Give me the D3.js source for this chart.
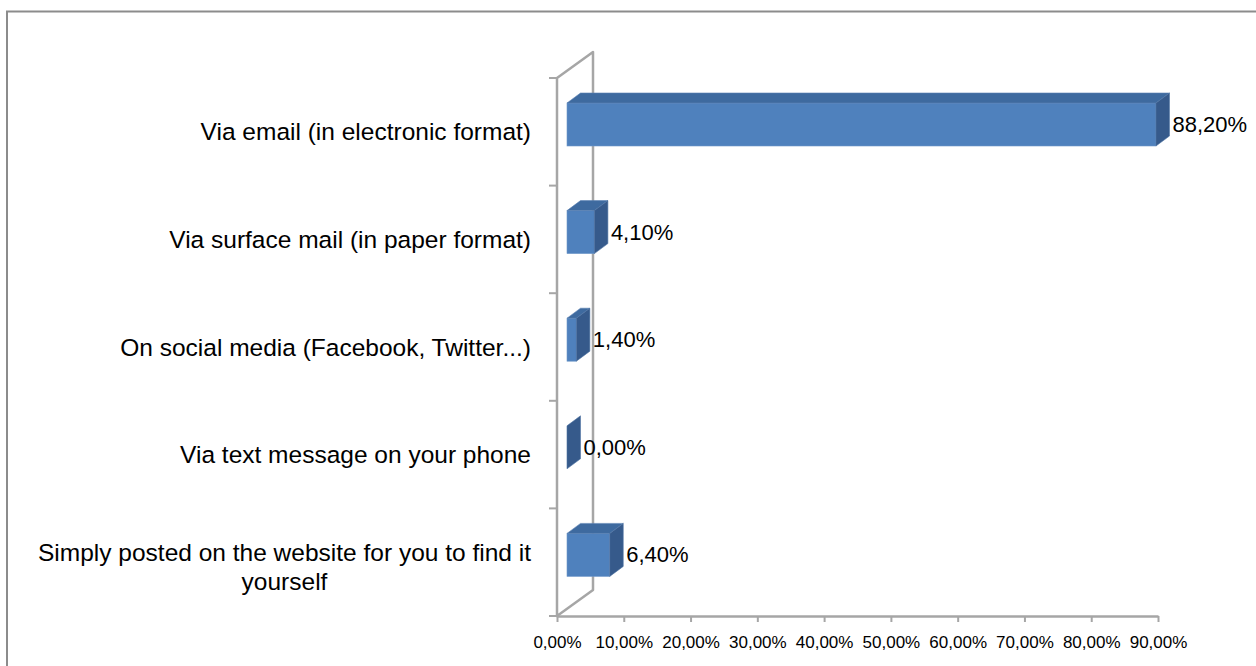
<!DOCTYPE html>
<html>
<head>
<meta charset="utf-8">
<script src="https://cdn.jsdelivr.net/npm/d3@7"></script>
<style>
  html, body { margin: 0; padding: 0; background: #fff; }
  svg { display: block; }
</style>
</head>
<body>
<svg id="chart" width="1256" height="666"></svg>
<script>
// ---- data ----
const categories = [
  "Via email (in electronic format)",
  "Via surface mail (in paper format)",
  "On social media (Facebook, Twitter...)",
  "Via text message on your phone",
  "Simply posted on the website for you to find it yourself"
];
const values = [0.882, 0.041, 0.014, 0.000, 0.064];
const xTicks = [0, 0.1, 0.2, 0.3, 0.4, 0.5, 0.6, 0.7, 0.8, 0.9];

// ---- setup ----
const svg = d3.select("#chart");
const FONT = "'Liberation Sans', Arial, sans-serif";
const locale = d3.formatLocale({decimal: ",", thousands: ".", grouping: [3], currency: ["", "€"]});
const fmt = locale.format(".2%");

// outer border
svg.append("rect")
  .attr("x", 7).attr("y", 11.5).attr("width", 1300).attr("height", 700)
  .attr("fill", "none").attr("stroke", "#8c8c8c").attr("stroke-width", 2);

const x = d3.scaleLinear().domain([0, 0.9]).range([557, 1158]);
const y = d3.scaleBand().domain(categories).range([78, 616]).padding(0);

// 3D depth vectors
const wallDx = 36, wallDy = -26;
const fdx = 10, fdy = -7.3;     // bar front offset into depth
const bdx = 13.5, bdy = -10;    // bar depth
const barH = 43;

const wallColor = "#a6a6a6";
const x0 = x(0), yT = y.range()[0], yB = y.range()[1];

// left wall (parallelogram)
svg.append("path")
  .attr("d", `M${x0},${yT} L${x0 + wallDx},${yT + wallDy} L${x0 + wallDx},${yB + wallDy} L${x0},${yB} Z`)
  .attr("fill", "none").attr("stroke", wallColor).attr("stroke-width", 2.5)
  .attr("stroke-linejoin", "round");

// category boundary ticks on the wall
const bounds = categories.map(c => y(c)).concat([yB]);
svg.append("g").selectAll("line").data(bounds).join("line")
  .attr("x1", x0 - 8).attr("x2", x0)
  .attr("y1", d => d).attr("y2", d => d)
  .attr("stroke", wallColor).attr("stroke-width", 2);

// x axis
const xAxis = d3.axisBottom(x).tickValues(xTicks).tickFormat(fmt)
  .tickSizeInner(6).tickSizeOuter(0).tickPadding(14);
const gx = svg.append("g").attr("transform", `translate(0,${yB})`).call(xAxis);
gx.select(".domain").attr("stroke", wallColor).attr("stroke-width", 2.5);
gx.selectAll(".tick line").attr("stroke", wallColor).attr("stroke-width", 2);
gx.selectAll(".tick text").attr("font-family", FONT).attr("font-size", 17).attr("fill", "#000");

// bars
const colFront = "#4f81bd", colTop = "#3e6a9f", colSide = "#365a8b";
const data = categories.map((c, i) => ({c, v: values[i]}));
const gb = svg.append("g");
data.forEach(d => {
  const xf0 = x(0) + fdx, xf1 = x(d.v) + fdx;
  const top = y(d.c) + y.bandwidth() / 2 - barH / 2 + fdy;
  const g = gb.append("g");
  if (xf1 - xf0 > 0.5) {
    g.append("rect").attr("x", xf0).attr("y", top).attr("width", xf1 - xf0).attr("height", barH)
      .attr("fill", colFront).attr("stroke", "#6f97c8").attr("stroke-width", 0.6);
    g.append("path")
      .attr("d", `M${xf0},${top} L${xf1},${top} L${xf1 + bdx},${top + bdy} L${xf0 + bdx},${top + bdy} Z`)
      .attr("fill", colTop).attr("stroke", "#5a82b4").attr("stroke-width", 0.6);
  }
  g.append("path")
    .attr("d", `M${xf1},${top} L${xf1 + bdx},${top + bdy} L${xf1 + bdx},${top + bdy + barH} L${xf1},${top + barH} Z`)
    .attr("fill", colSide).attr("stroke", "#4f73a3").attr("stroke-width", 0.6);
  // value label
  svg.append("text")
    .attr("x", xf1 + bdx + 3).attr("y", top + barH / 2)
    .attr("dominant-baseline", "central")
    .attr("font-family", FONT).attr("font-size", 22).attr("fill", "#000")
    .text(fmt(d.v));
});

// category labels (right aligned, wrapped & centered when long)
const labelRight = 531, maxW = 505, lineH = 29;
categories.forEach(c => {
  const cy = y(c) + y.bandwidth() / 2;
  const t = svg.append("text")
    .attr("font-family", FONT).attr("font-size", 24.5).attr("fill", "#000")
    .attr("dominant-baseline", "central");
  // wrap words
  const words = c.split(" ");
  const lines = [];
  let cur = [];
  const probe = svg.append("text").attr("font-family", FONT).attr("font-size", 24.5);
  words.forEach(w => {
    const test = cur.concat([w]).join(" ");
    probe.text(test);
    if (probe.node().getComputedTextLength() > maxW && cur.length) {
      lines.push(cur.join(" "));
      cur = [w];
    } else cur.push(w);
  });
  lines.push(cur.join(" "));
  let widest = 0;
  lines.forEach(l => { probe.text(l); widest = Math.max(widest, probe.node().getComputedTextLength()); });
  probe.remove();
  if (lines.length === 1) {
    t.attr("x", labelRight).attr("y", cy).attr("text-anchor", "end").text(c);
  } else {
    const mid = labelRight - widest / 2;
    const startY = cy + 4 - (lines.length - 1) * lineH / 2;
    t.attr("text-anchor", "middle");
    lines.forEach((l, i) => {
      t.append("tspan").attr("x", mid).attr("y", startY + i * lineH).text(l);
    });
  }
});
</script>
</body>
</html>
